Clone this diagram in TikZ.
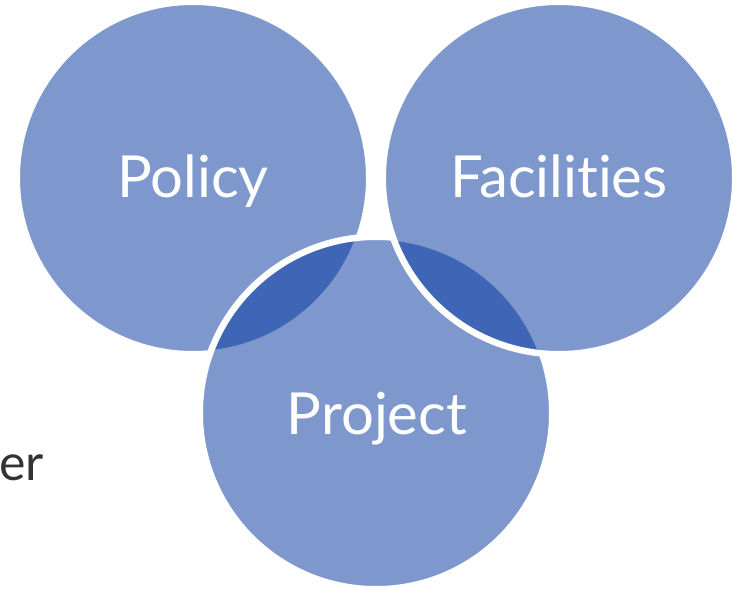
\documentclass[tikz,border=0pt]{standalone}
\usepackage{fontspec}
\setmainfont{Lato}[Ligatures=NoCommon]
\definecolor{blobblue}{RGB}{2,53,159}
\definecolor{textgray}{RGB}{51,51,51}
\tikzset{
  blob/.style={circle, minimum size=352.5pt, inner sep=0pt, fill=blobblue, fill opacity=0.51, draw=white, draw opacity=1, line width=6.5pt},
  blobtext/.style={text=white, font=\fontsize{58}{58}\selectfont, anchor=base, inner sep=0pt},
}
\begin{document}
\begin{tikzpicture}[x=1pt,y=-1pt]
\useasboundingbox (0,0) rectangle (732,590);
\node[blob] (policy) at (193,178) {};
\node[blob] (project) at (376,413) {};
\node[blob] (facilities) at (559,178) {};
\node[blobtext] (tpolicy) at (193,197) {Policy};
\node[blobtext] (tfacilities) at (559,197) {Facilities};
\node[blobtext] (tproject) at (377,434) {Project};
\node[anchor=base west, inner sep=0pt, text=textgray, font=\fontsize{50}{50}\selectfont] (er) at (-1,480) {er};
\end{tikzpicture}
\end{document}
